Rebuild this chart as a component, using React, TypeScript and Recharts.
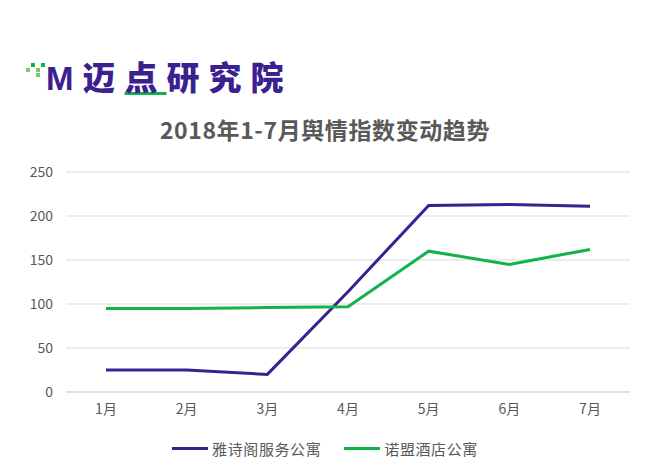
import { CartesianGrid, Line, LineChart, XAxis, YAxis } from 'recharts';

const months = ['1月', '2月', '3月', '4月', '5月', '6月', '7月'];
const yashige = [25, 25, 20, 114, 212, 213, 211];
const nuomeng = [95, 95, 96, 97, 160, 145, 162];
const yTicks = [0, 50, 100, 150, 200, 250];
const seriesNames = ['雅诗阁服务公寓', '诺盟酒店公寓'];

const PURPLE = '#3b2090';
const GREEN = '#12b24a';
const TEXT = '#595959';
const GRID = '#d9d9d9';
const FONT = '"Noto Sans CJK SC", "Noto Sans", sans-serif';

const data = months.map((m, i) => ({ month: m, a: yashige[i], b: nuomeng[i] }));

function Logo() {
  const dots = [
    [0, 6], [5, 1], [10, 6], [15, 1], [10, 11],
  ];
  return (
    <div style={{ position: 'absolute', left: 26, top: 56, height: 40 }}>
      {dots.map(([x, y], i) => (
        <div
          key={i}
          style={{
            position: 'absolute',
            left: x,
            top: y + 6,
            width: 4,
            height: 4,
            background: i % 2 ? GREEN : '#7cc96a',
          }}
        />
      ))}
      <div
        style={{
          position: 'absolute',
          left: 20,
          top: 0,
          whiteSpace: 'nowrap',
          fontFamily: FONT,
          fontWeight: 900,
          fontSize: 33,
          lineHeight: '40px',
          color: PURPLE,
          letterSpacing: 9,
        }}
      >
        <span style={{ fontFamily: 'Arial, "Liberation Sans", sans-serif', fontWeight: 900 }}>M</span>
        <span>迈</span>
        <span style={{ textDecoration: 'underline', textDecorationColor: GREEN, textDecorationThickness: 3 }}>点</span>
        <span>研究院</span>
      </div>
    </div>
  );
}

function LegendBox() {
  const colors = [PURPLE, GREEN];
  return (
    <div
      style={{
        position: 'absolute',
        left: 0,
        top: 438,
        width: 650,
        display: 'flex',
        justifyContent: 'center',
        gap: 23,
        fontFamily: FONT,
        fontSize: 15,
        letterSpacing: 0.6,
        color: TEXT,
      }}
    >
      {seriesNames.map((n, i) => (
        <div key={n} style={{ display: 'flex', alignItems: 'center', gap: 4 }}>
          <span style={{ width: 36, height: 3, background: colors[i], display: 'inline-block' }} />
          <span>{n}</span>
        </div>
      ))}
    </div>
  );
}

export default function App() {
  return (
    <div style={{ position: 'absolute', left: 0, top: 0, width: 650, height: 475, background: '#fff' }}>
      <Logo />
      <div
        style={{
          position: 'absolute',
          left: 0,
          top: 112,
          width: 650,
          textAlign: 'center',
          fontFamily: FONT,
          fontWeight: 700,
          fontSize: 23,
          letterSpacing: 0.6,
          color: TEXT,
        }}
      >
        2018年1-7月舆情指数变动趋势
      </div>
      <div style={{ position: 'absolute', left: 0, top: 0 }}>
        <LineChart
          width={650}
          height={475}
          data={data}
          margin={{ top: 172, right: 20, left: 0, bottom: 53 }}
          style={{ fontFamily: FONT }}
        >
          <CartesianGrid vertical={false} stroke={GRID} />
          <XAxis
            dataKey="month"
            height={30}
            padding={{ left: 40, right: 40 }}
            tickLine={false}
            tickSize={6}
            tickMargin={6}
            axisLine={{ stroke: GRID }}
            tick={{ fill: TEXT, fontSize: 14 }}
          />
          <YAxis
            width={66}
            domain={[0, 250]}
            ticks={yTicks}
            axisLine={false}
            tickLine={false}
            tickSize={6}
            tickMargin={7}
            tick={{ fill: TEXT, fontSize: 14 }}
          />
          <Line
            type="linear"
            dataKey="a"
            name={seriesNames[0]}
            stroke={PURPLE}
            strokeWidth={3}
            dot={false}
            activeDot={false}
            isAnimationActive={false}
          />
          <Line
            type="linear"
            dataKey="b"
            name={seriesNames[1]}
            stroke={GREEN}
            strokeWidth={3}
            dot={false}
            activeDot={false}
            isAnimationActive={false}
          />
        </LineChart>
      </div>
      <LegendBox />
    </div>
  );
}
